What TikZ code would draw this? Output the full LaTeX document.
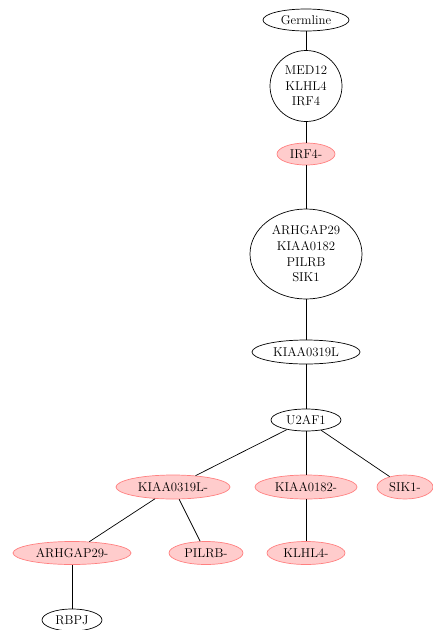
\documentclass[tikz,border=0pt]{standalone}
\usetikzlibrary{shapes.geometric}
\definecolor{lossfill}{RGB}{255,204,204}
\definecolor{lossdraw}{RGB}{255,128,128}
\tikzset{
  gene/.style={ellipse, draw=black, line width=0.7pt, inner sep=0pt,
    font=\fontsize{12.8}{15.7}\selectfont, align=center},
  loss/.style={gene, draw=lossdraw, fill=lossfill},
  link/.style={draw=black, line width=0.7pt}
}
\begin{document}
\begin{tikzpicture}[x=1pt,y=-1pt]
\useasboundingbox (0,0) rectangle (432,630);
% clone tree
\node[gene, minimum width=86pt, minimum height=22pt] (germ) at (306,20) {Germline};
\node[gene, minimum width=72pt, minimum height=71pt] (c1) at (306,86) {MED12\\KLHL4\\IRF4};
\node[loss, minimum width=58pt, minimum height=22pt] (irf) at (306,154) {IRF4-};
\node[gene, minimum width=112pt, minimum height=90pt] (c2) at (306,254) {ARHGAP29\\KIAA0182\\PILRB\\SIK1};
\node[gene, minimum width=108pt, minimum height=24pt] (kl) at (306,352) {KIAA0319L};
\node[gene, minimum width=70pt, minimum height=22pt] (u2) at (306,420) {U2AF1};
\node[loss, minimum width=114pt, minimum height=24pt] (klm) at (173,487) {KIAA0319L-};
\node[loss, minimum width=102pt, minimum height=24pt] (k182) at (306,487) {KIAA0182-};
\node[loss, minimum width=56pt, minimum height=24pt] (sik) at (405,487) {SIK1-};
\node[loss, minimum width=118pt, minimum height=23pt] (arh) at (72,553) {ARHGAP29-};
\node[loss, minimum width=74pt, minimum height=23pt] (pil) at (206,553) {PILRB-};
\node[loss, minimum width=78pt, minimum height=23pt] (klh) at (306,553) {KLHL4-};
\node[gene, minimum width=60pt, minimum height=22pt] (rbpj) at (72,620) {RBPJ};
% edges
\draw[link] (germ) -- (c1);
\draw[link] (c1) -- (irf);
\draw[link] (irf) -- (c2);
\draw[link] (c2) -- (kl);
\draw[link] (kl) -- (u2);
\draw[link] (u2) -- (klm);
\draw[link] (u2) -- (k182);
\draw[link] (u2) -- (sik);
\draw[link] (klm) -- (arh);
\draw[link] (klm) -- (pil);
\draw[link] (k182) -- (klh);
\draw[link] (arh) -- (rbpj);
\end{tikzpicture}
\end{document}
